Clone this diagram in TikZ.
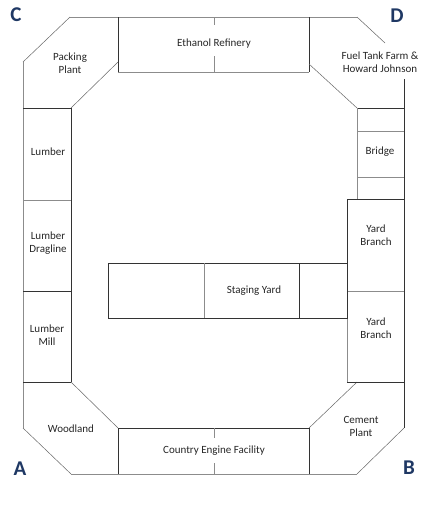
\documentclass[tikz,border=0pt]{standalone}
\usepackage{fontspec}
\setmainfont{Carlito}
\begin{document}
\begin{tikzpicture}[x=1pt,y=-1pt,
  lg/.style={draw=black!45,line width=0.8pt},
  dk/.style={draw=black!80,line width=0.8pt},
  thin/.style={draw=black!60,line width=0.5pt},
  lbl/.style={font=\fontsize{11}{13}\selectfont,align=center,text=black!85,inner sep=0pt},
  corner/.style={font=\fontsize{21}{21}\bfseries\selectfont,text=cornerblue,inner sep=0pt}]
\definecolor{cornerblue}{HTML}{1F3864}
\useasboundingbox (0,0) rectangle (431,512);
% outer outline
\draw[lg] (23,62) -- (23,428);
\draw[thin] (70,17) -- (23,62);
\draw[lg] (70,17) -- (357,17);
\draw[thin] (357,17) -- (385,43);
\draw[dk] (404,79) -- (404,428);
\draw[thin] (404,428) -- (357,474);
\draw[lg] (357,474) -- (71,474);
\draw[thin] (71,474) -- (23,428);
% Ethanol refinery
\draw[dk] (118,17) -- (118,72);
\draw[lg] (118,72) -- (309,72);
\draw[dk] (309,17) -- (309,72);
\draw[lg] (214,17) -- (214,25) (214,56) -- (214,72);
% Country engine facility
\draw[dk] (118,428) -- (309,428);
\draw[dk] (118,428) -- (118,474);
\draw[dk] (309,428) -- (309,474);
\draw[lg] (214,428) -- (214,438) (214,463) -- (214,474);
% inner diagonals
\draw[thin] (118,62) -- (71,108);
\draw[thin] (309,64) -- (357,108);
\draw[thin] (357,382) -- (309,428);
\draw[thin] (71,382) -- (118,428);
% left column
\draw[dk] (23,108) -- (71,108);
\draw[dk] (71,108) -- (71,382);
\draw[lg] (23,200) -- (71,200);
\draw[dk] (23,291) -- (71,291);
\draw[dk] (23,382) -- (71,382);
% bridge column
\draw[dk] (357,108) -- (404,108);
\draw[lg] (357,108) -- (357,199);
\draw[lg] (357,131) -- (404,131);
\draw[lg] (357,177) -- (404,177);
\draw[dk] (347,199) -- (404,199);
% yard branches
\draw[dk] (347,199) -- (347,291);
\draw[lg] (347,291) -- (404,291);
\draw[lg] (347,291) -- (347,382);
\draw[dk] (347,382) -- (404,382);
% staging yard
\draw[dk] (108,263) rectangle (347,318);
\draw[lg] (204,263) -- (204,318);
\draw[dk] (299,263) -- (299,318);
% labels
\node[lbl] (packing) at (70,63) {Packing\\Plant};
\node[lbl] (ethanol) at (214,44) {Ethanol Refinery};
\node[lbl] (fuel) at (380,62) {Fuel Tank Farm \&\\Howard Johnson};
\node[lbl] (lumber) at (48,152) {Lumber};
\node[lbl] (dragline) at (48,243) {Lumber\\Dragline};
\node[lbl] (mill) at (47,335) {Lumber\\Mill};
\node[lbl] (bridge) at (380,152) {Bridge};
\node[lbl] (yard1) at (376,235) {Yard\\Branch};
\node[lbl] (yard2) at (376,328) {Yard\\Branch};
\node[lbl] (staging) at (254,291) {Staging Yard};
\node[lbl] (woodland) at (71,429) {Woodland};
\node[lbl] (cement) at (361,426) {Cement\\Plant};
\node[lbl] (country) at (214,451) {Country Engine Facility};
\node[corner] (C) at (16,15) {C};
\node[corner] (D) at (397,16) {D};
\node[corner] (A) at (20,469) {A};
\node[corner] (B) at (409,468) {B};
\end{tikzpicture}
\end{document}
